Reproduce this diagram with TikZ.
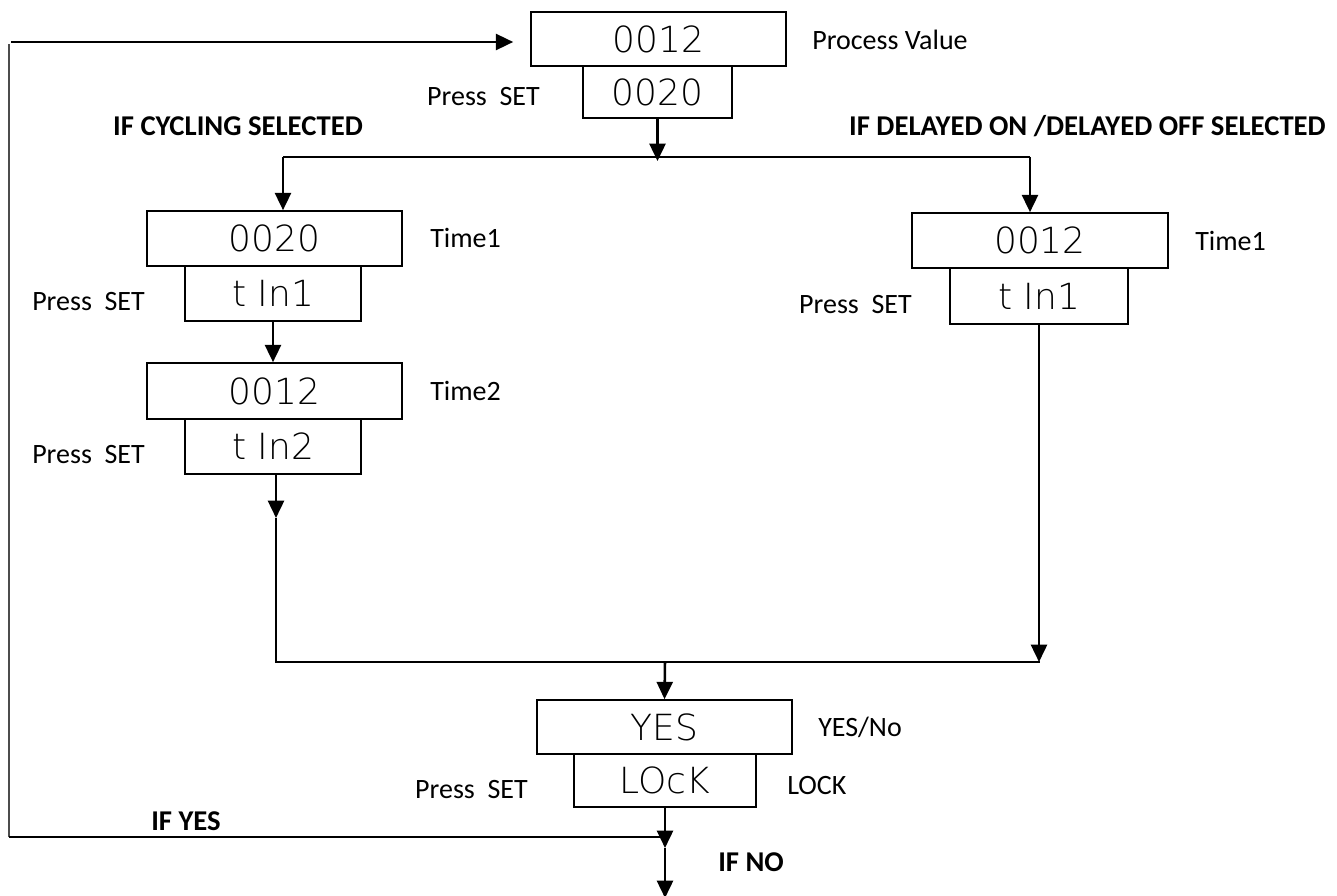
\documentclass[tikz,border=0pt]{standalone}
\usepackage{fontspec}
\setmainfont{Carlito}
\IfFontExistsTF{DejaVu Sans ExtraLight}{\newfontfamily\segfont{DejaVu Sans ExtraLight}}{\newfontfamily\segfont{DejaVu Sans}}
\usetikzlibrary{arrows.meta}
\begin{document}
\begin{tikzpicture}[x=0.75pt,y=-0.75pt,
  dbox/.style 2 args={draw, line width=1.2pt, minimum width=#1*0.75pt, minimum height=#2*0.75pt, inner sep=0pt, font=\segfont\fontsize{27}{30}\selectfont},
  lbl/.style={inner sep=0pt, font=\fontsize{21}{25}\selectfont},
  blbl/.style={inner sep=0pt, font=\bfseries\fontsize{21.5}{25}\selectfont},
  arr/.style={line width=1.9pt, -{Triangle[length=13pt,width=12pt]}},
  ln/.style={line width=1pt},
  loopline/.style={line width=1.5pt, draw=black!70}
]
\useasboundingbox (0,0) rectangle (1337,895);

% display boxes
\node[dbox={255}{54}] (pv) at (658.5,39) {0012};
\node[dbox={149}{52}] (pvs) at (657.5,92) {0020};
\node[dbox={255}{55}] (t1) at (274.5,238.5) {0020};
\node[dbox={176}{55}] (t1s) at (273,293.5) {t In1};
\node[dbox={255}{56}] (t2) at (274.5,391) {0012};
\node[dbox={176}{55}] (t2s) at (273,446.5) {t In2};
\node[dbox={256}{55}] (r1) at (1040,240.5) {0012};
\node[dbox={178}{56}] (r1s) at (1039,296) {t In1};
\node[dbox={255}{54}] (yes) at (664.5,727) {YES};
\node[dbox={182}{53}] (lock) at (665,780.5) {LOcK};

% labels
\node[lbl, anchor=west] (pvl) at (812,40) {Process Value};
\node[lbl, anchor=east] (ps0) at (540,97) {Press\ \ SET};
\node[blbl] (cyc) at (238,126) {IF CYCLING SELECTED};
\node[blbl, anchor=east] (del) at (1326,126) {IF DELAYED ON /DELAYED OFF SELECTED};
\node[lbl, anchor=west] (t1l) at (430,238) {Time1};
\node[lbl, anchor=west] (ps1) at (32,302) {Press\ \ SET};
\node[lbl, anchor=west] (t2l) at (430,391) {Time2};
\node[lbl, anchor=west] (ps2) at (32,455) {Press\ \ SET};
\node[lbl, anchor=west] (r1l) at (1195,241) {Time1};
\node[lbl, anchor=east] (ps3) at (912,305) {Press\ \ SET};
\node[lbl, anchor=west] (ynl) at (818,727) {YES/No};
\node[lbl, anchor=west] (lkl) at (787,785) {LOCK};
\node[lbl, anchor=east] (ps4) at (528,790) {Press\ \ SET};
\node[blbl] (ify) at (186,821) {IF YES};
\node[blbl, anchor=west] (ifn) at (718,862) {IF NO};

% connectors
\coordinate (lt) at (9,44);
\coordinate (lb) at (9,837);
\coordinate (ta) at (11,42);
\coordinate (j0) at (657.5,161);
\coordinate (jl) at (283,157);
\coordinate (jr) at (1030,157);
\coordinate (m2) at (276,518);
\coordinate (m3) at (276,662);
\coordinate (m4) at (1040,662);
\coordinate (my) at (665,662);
\coordinate (mn) at (665,848);
\coordinate (hn) at (665,837);
\coordinate (fin) at (665,898);

\draw[loopline] (lb) -- (lt);
\draw[arr, shorten >=12.75pt] (ta) -- (ta -| pv.west);
\draw[arr] (pvs.south) -- (j0);
\draw[ln] (jl) -- (jr);
\draw[arr] (jl) -- (jl |- t1.north);
\draw[arr] (jr) -- (jr |- r1.north);
\draw[arr] (t1s.south) -- (t1s.south |- t2.north);
\draw[arr] (t2s.south -| m2) -- (m2);
\draw[ln] (m2) -- (m3) -- (m4);
\draw[arr] (r1s.south) -- (r1s.south |- m4);
\draw[arr] (my) -- (yes.north);
\draw[arr] (lock.south) -- (mn);
\draw[arr] (mn) -- (fin);
\draw[ln] (lb) -- (hn);
\end{tikzpicture}
\end{document}
